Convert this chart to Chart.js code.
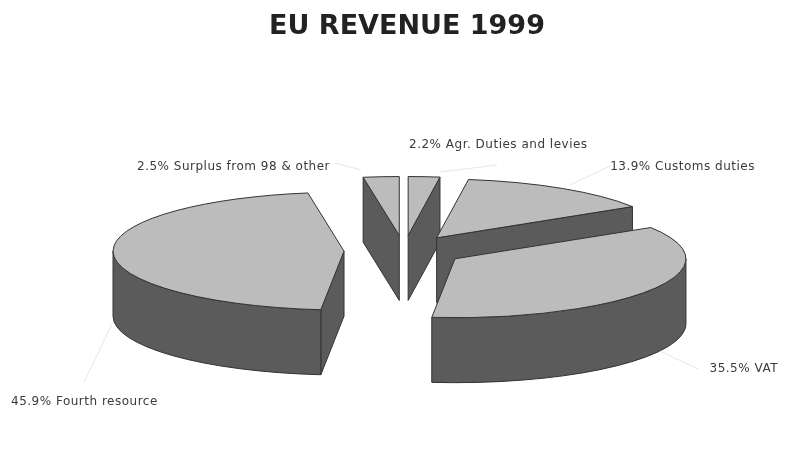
<!DOCTYPE html>
<html>
<head>
<meta charset="utf-8">
<title>EU revenue 1999</title>
<script src="https://cdn.jsdelivr.net/npm/chart.js@4/dist/chart.umd.min.js"></script>
<style>
  html, body { margin: 0; padding: 0; background: #fff; }
  #box { width: 793px; height: 461px; }
</style>
</head>
<body>
<div id="box"><canvas id="pie"></canvas></div>
<script>
// Revenue sources, clockwise from twelve o'clock.
const sources = ['Agr. Duties and levies', 'Customs duties', 'VAT', 'Fourth resource', 'Surplus from 98 & other'];
const shares = [2.2, 13.9, 35.5, 45.9, 2.5];

const topColour = '#bcbcbc';
const wallColour = '#5b5b5b';
const edgeColour = '#333333';
const leaderColour = '#e6e6e6';
const textColour = '#3a3a3a';

const tilt = 0.255;       // vertical squash of the pie disc
const wallDepth = 65;     // height of the extruded wall in px
const explode = 60;       // distance each slice is pulled from the centre
const pieRadius = 231;
const centreNudge = -3;   // pie sits slightly left of the title's centre line

// Where each caption sits and where its leader line starts and ends.
const captionPlace = [
  { x: 409, y: 145, align: 'left',  from: [497, 165], to: [440, 172] },
  { x: 755, y: 167, align: 'right', from: [610, 166], to: [570, 185] },
  { x: 778, y: 369, align: 'right', from: [698, 369], to: [660, 351] },
  { x: 11,  y: 402, align: 'left',  from: [84, 382],  to: [113, 322] },
  { x: 137, y: 167, align: 'left',  from: [335, 163], to: [361, 170] }
];

function discCentre(chart) {
  return (chart.chartArea.top + chart.chartArea.bottom) / 2;
}

function squashed(ctx, y0, build) {
  ctx.save();
  ctx.translate(0, y0);
  ctx.scale(1, tilt);
  ctx.translate(0, -y0);
  build();
  ctx.restore();
}

const pie3d = {
  id: 'pie3d',
  // Pull every slice outward along its mid-angle.
  afterDatasetUpdate(chart) {
    chart.getDatasetMeta(0).data.forEach(arc => {
      const mid = (arc.startAngle + arc.endAngle) / 2;
      arc.x += Math.cos(mid) * explode + centreNudge;
      arc.y += Math.sin(mid) * explode;
    });
  },
  beforeDatasetsDraw(chart) {
    const ctx = chart.ctx;
    const arcs = chart.getDatasetMeta(0).data;
    const y0 = discCentre(chart);
    const down = wallDepth / tilt;
    // Rear slices first so the nearer walls and discs cover them.
    const order = [4, 0, 1, 3, 2];
    ctx.save();
    ctx.fillStyle = wallColour;
    ctx.strokeStyle = edgeColour;
    ctx.lineWidth = 1;
    ctx.lineJoin = 'round';
    order.forEach(i => {
      const arc = arcs[i];
      const a = arc.startAngle, b = arc.endAngle, r = arc.outerRadius;
      const radial = angle => () => {
        const px = arc.x + Math.cos(angle) * r, py = arc.y + Math.sin(angle) * r;
        ctx.moveTo(arc.x, arc.y);
        ctx.lineTo(px, py);
        ctx.lineTo(px, py + down);
        ctx.lineTo(arc.x, arc.y + down);
        ctx.closePath();
      };
      const faces = [];
      if (Math.sin(a - Math.PI / 2) > 0) faces.push(radial(a));
      if (Math.sin(b + Math.PI / 2) > 0) faces.push(radial(b));
      const s = Math.max(a, 0), e = Math.min(b, Math.PI);
      if (e > s) faces.push(() => {
        ctx.arc(arc.x, arc.y, r, s, e);
        ctx.arc(arc.x, arc.y + down, r, e, s, true);
        ctx.closePath();
      });
      faces.forEach(face => {
        ctx.beginPath();
        squashed(ctx, y0, face);
        ctx.fill();
        ctx.stroke();
      });
    });
    ctx.restore();

    // The library's own arcs are painted as the flat slice tops.
    ctx.save();
    ctx.translate(0, y0);
    ctx.scale(1, tilt);
    ctx.translate(0, -y0);
  },
  afterDatasetsDraw(chart) {
    const ctx = chart.ctx;
    ctx.restore();
    const arcs = chart.getDatasetMeta(0).data;
    const y0 = discCentre(chart);

    ctx.save();
    ctx.strokeStyle = edgeColour;
    ctx.lineWidth = 1;
    ctx.lineJoin = 'round';
    arcs.forEach(arc => {
      ctx.beginPath();
      squashed(ctx, y0, () => {
        ctx.moveTo(arc.x, arc.y);
        ctx.arc(arc.x, arc.y, arc.outerRadius, arc.startAngle, arc.endAngle);
        ctx.closePath();
      });
      ctx.stroke();
    });
    ctx.restore();

    // Captions with their pale leader lines.
    ctx.save();
    ctx.font = '12px "DejaVu Sans"';
    ctx.letterSpacing = '0.5px';
    ctx.textBaseline = 'middle';
    sources.forEach((name, i) => {
      const p = captionPlace[i];
      ctx.strokeStyle = leaderColour;
      ctx.lineWidth = 1;
      ctx.beginPath();
      ctx.moveTo(p.from[0], p.from[1]);
      ctx.lineTo(p.to[0], p.to[1]);
      ctx.stroke();
      ctx.fillStyle = textColour;
      ctx.textAlign = p.align;
      ctx.fillText(shares[i].toFixed(1) + '% ' + name, p.x, p.y);
    });
    ctx.restore();
  }
};

new Chart(document.getElementById('pie'), {
  type: 'pie',
  data: {
    labels: sources,
    datasets: [{
      data: shares,
      backgroundColor: topColour,
      borderWidth: 0,
      radius: pieRadius,
      clip: false
    }]
  },
  options: {
    responsive: true,
    maintainAspectRatio: false,
    animation: false,
    layout: { padding: { left: 21, bottom: 3 } },
    events: [],
    plugins: {
      legend: { display: false },
      tooltip: { enabled: false },
      title: {
        display: true,
        text: 'EU REVENUE 1999',
        color: '#222222',
        font: { family: '"DejaVu Sans"', size: 27, weight: 'bold' },
        padding: { top: 11, bottom: 0 }
      }
    }
  },
  plugins: [pie3d]
});
</script>
</body>
</html>
